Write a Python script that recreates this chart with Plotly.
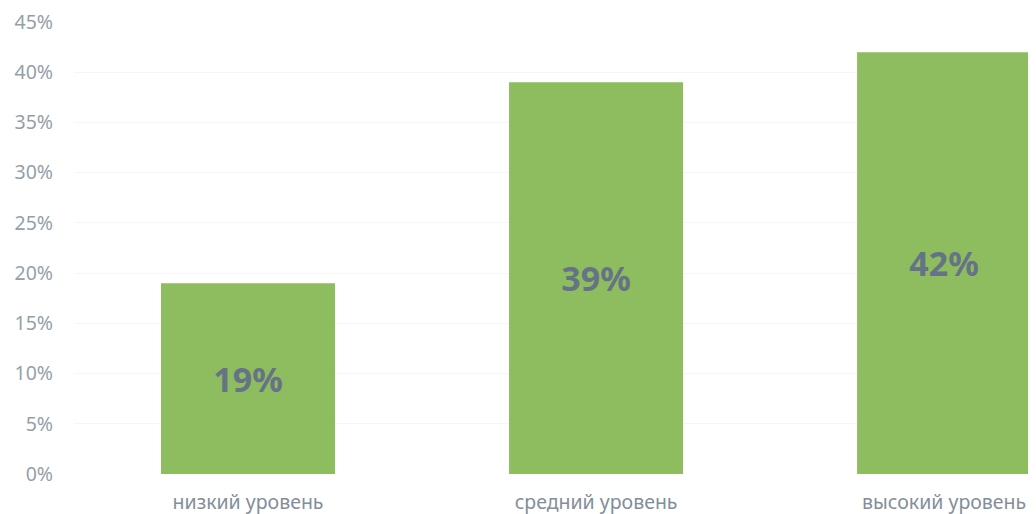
import plotly.graph_objects as go

categories = ["низкий уровень", "средний уровень", "высокий уровень"]
values = [19, 39, 42]
tick_vals = [0, 5, 10, 15, 20, 25, 30, 35, 40, 45]
tick_text = [f"{v}%" for v in tick_vals]

fig = go.Figure(go.Bar(
    x=categories,
    y=values,
    text=[f"{v}%" for v in values],
    textposition="inside",
    insidetextanchor="middle",
    textfont=dict(family="Noto Sans", size=34, color="#667386", weight="bold"),
    marker=dict(color="#8dbd5e", line=dict(width=0)),
    width=0.5,
))

fig.update_layout(
    width=1036, height=514,
    margin=dict(l=66, r=0, t=14, b=48, autoexpand=False),
    paper_bgcolor="white", plot_bgcolor="white",
    showlegend=False,
    font=dict(family="Noto Sans", color="#8a95a0"),
)
fig.update_xaxes(
    range=[-0.5, 2.287],
    showgrid=False, showline=False, zeroline=False,
    tickfont=dict(size=19.5, color="#838e99"),
    ticklabelstandoff=14,
    ticklabeloverflow="allow",
    automargin=False,
)
fig.update_yaxes(
    range=[0, 45],
    tickvals=tick_vals,
    ticktext=tick_text,
    showgrid=True, gridcolor="#f6f6f6", gridwidth=1,
    zeroline=False, showline=False,
    tickfont=dict(size=19.5, color="#959fa9"),
    ticklabelstandoff=20,
    ticklabeloverflow="allow",
    automargin=False,
)

fig.write_html("out.html")
